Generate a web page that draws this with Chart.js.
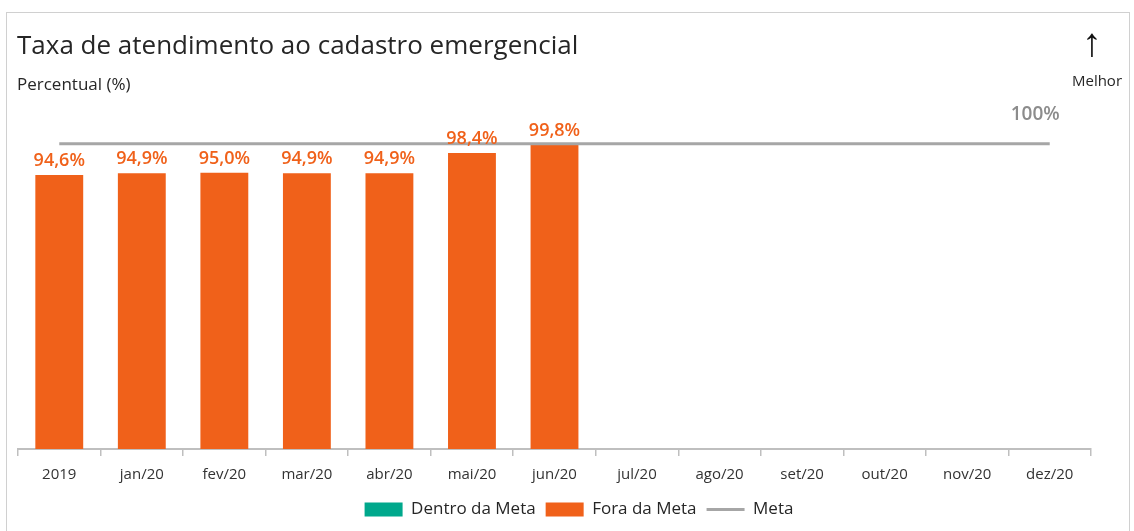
<!doctype html>
<html lang="pt-BR">
<head>
    <meta charset="UTF-8">
    <title>Taxa de atendimento ao cadastro emergencial</title>
    <style>
        * { margin: 0; padding: 0; box-sizing: border-box; }
        body { background: #fff; width: 1134px; height: 531px; overflow: hidden; position: relative; }
        #frame {
            position: absolute; left: 6px; top: 12px; width: 1124px; height: 540px;
            border: 1px solid #d0d0d0;
        }
        #wrap { position: absolute; left: 0; top: 0; width: 1134px; height: 531px; }
    </style>
</head>
<body>
<div id="frame"></div>
<div id="wrap"><canvas id="grafico"></canvas></div>

<script src="https://cdn.jsdelivr.net/npm/chart.js@4"></script>
<script>
    const categorias = ['2019', 'jan/20', 'fev/20', 'mar/20', 'abr/20', 'mai/20', 'jun/20',
        'jul/20', 'ago/20', 'set/20', 'out/20', 'nov/20', 'dez/20'];
    const dentroDaMeta = [null, null, null, null, null, null, null, null, null, null, null, null, null];
    const foraDaMeta = [94.6, 94.9, 95.0, 94.9, 94.9, 98.4, 99.8, null, null, null, null, null, null];
    const meta = [100, 100, 100, 100, 100, 100, 100, 100, 100, 100, 100, 100, 100];

    const LARANJA = '#f0611a';
    const VERDE = '#00a88c';
    const CINZA = '#a6a6a6';
    const FONTE = "'Open Sans', sans-serif";

    // textos: titulo, subtitulo, "Melhor" e rotulos de dados
    const textos = {
        id: 'textos',
        afterDraw(chart) {
            const ctx = chart.ctx;
            ctx.save();
            ctx.textBaseline = 'middle';
            ctx.textAlign = 'left';
            ctx.fillStyle = '#262626';
            ctx.font = '26px ' + FONTE;
            ctx.fillText('Taxa de atendimento ao cadastro emergencial', 17, 47);
            ctx.font = '17px ' + FONTE;
            ctx.fillText('Percentual (%)', 17, 85);

            ctx.textAlign = 'center';
            ctx.fillStyle = '#111';
            ctx.font = 'bold 40px "Liberation Sans"';
            ctx.fillText('↑', 1092, 45);
            ctx.fillStyle = '#262626';
            ctx.font = '15px ' + FONTE;
            ctx.fillText('Melhor', 1097, 82);

            // rotulos das barras
            ctx.textBaseline = 'bottom';
            ctx.fillStyle = LARANJA;
            ctx.font = '600 18px ' + FONTE;
            chart.getDatasetMeta(1).data.forEach((bar, i) => {
                const v = foraDaMeta[i];
                if (v == null) return;
                ctx.fillText(v.toFixed(1).replace('.', ',') + '%', bar.x, bar.y - 5);
            });

            // rotulo da meta
            const pts = chart.getDatasetMeta(2).data;
            const ult = pts[pts.length - 1];
            ctx.textAlign = 'right';
            ctx.fillStyle = '#8c8c8c';
            ctx.font = '600 19px ' + FONTE;
            ctx.fillText(meta[meta.length - 1] + '%', ult.x + 10, ult.y - 20);
            ctx.restore();
        },
        afterLayout(chart) {
            // legenda um pouco para a direita, como no original
            chart.legend.left += 12;
            chart.legend.right += 12;
        }
    };

    const grafico = new Chart(document.getElementById('grafico'), {
        type: 'bar',
        data: {
            labels: categorias,
            datasets: [
                {
                    label: 'Dentro da Meta',
                    data: dentroDaMeta,
                    backgroundColor: VERDE,
                    pointStyle: 'rect',
                    grouped: false,
                    barPercentage: 0.58,
                    categoryPercentage: 1,
                    order: 2
                },
                {
                    label: 'Fora da Meta',
                    data: foraDaMeta,
                    backgroundColor: LARANJA,
                    pointStyle: 'rect',
                    grouped: false,
                    barPercentage: 0.58,
                    categoryPercentage: 1,
                    order: 1
                },
                {
                    type: 'line',
                    label: 'Meta',
                    data: meta,
                    borderColor: CINZA,
                    backgroundColor: CINZA,
                    borderWidth: 3,
                    pointRadius: 0,
                    pointStyle: 'line',
                    order: 0
                }
            ]
        },
        options: {
            responsive: true,
            maintainAspectRatio: false,
            animation: false,
            layout: { padding: { top: 100, bottom: 3, left: 0, right: 0 } },
            plugins: {
                title: { display: false },
                tooltip: { enabled: false },
                legend: {
                    position: 'bottom',
                    labels: {
                        usePointStyle: true,
                        pointStyleWidth: 38,
                        boxHeight: 14,
                        padding: 10,
                        color: '#262626',
                        font: { family: FONTE, size: 17 },
                        sort: (a, b) => a.datasetIndex - b.datasetIndex
                    }
                }
            },
            scales: {
                x: {
                    grid: { display: true, drawOnChartArea: false, tickLength: 7, color: '#bfbfbf', lineWidth: 1.5 },
                    border: { color: '#bfbfbf', width: 2 },
                    ticks: { color: '#333', padding: 10, maxRotation: 0, font: { family: FONTE, size: 15 } },
                    afterFit(s) { s.height = 42; }
                },
                y: {
                    position: 'left',
                    min: 47.5,
                    max: 107.5,
                    grid: { display: false },
                    border: { display: false },
                    ticks: { display: false },
                    afterFit(s) { s.width = 18; }
                },
                y2: {
                    position: 'right',
                    grid: { display: false },
                    border: { display: false },
                    ticks: { display: false },
                    afterFit(s) { s.width = 43; }
                }
            }
        },
        plugins: [textos]
    });
</script>
</body>
</html>
